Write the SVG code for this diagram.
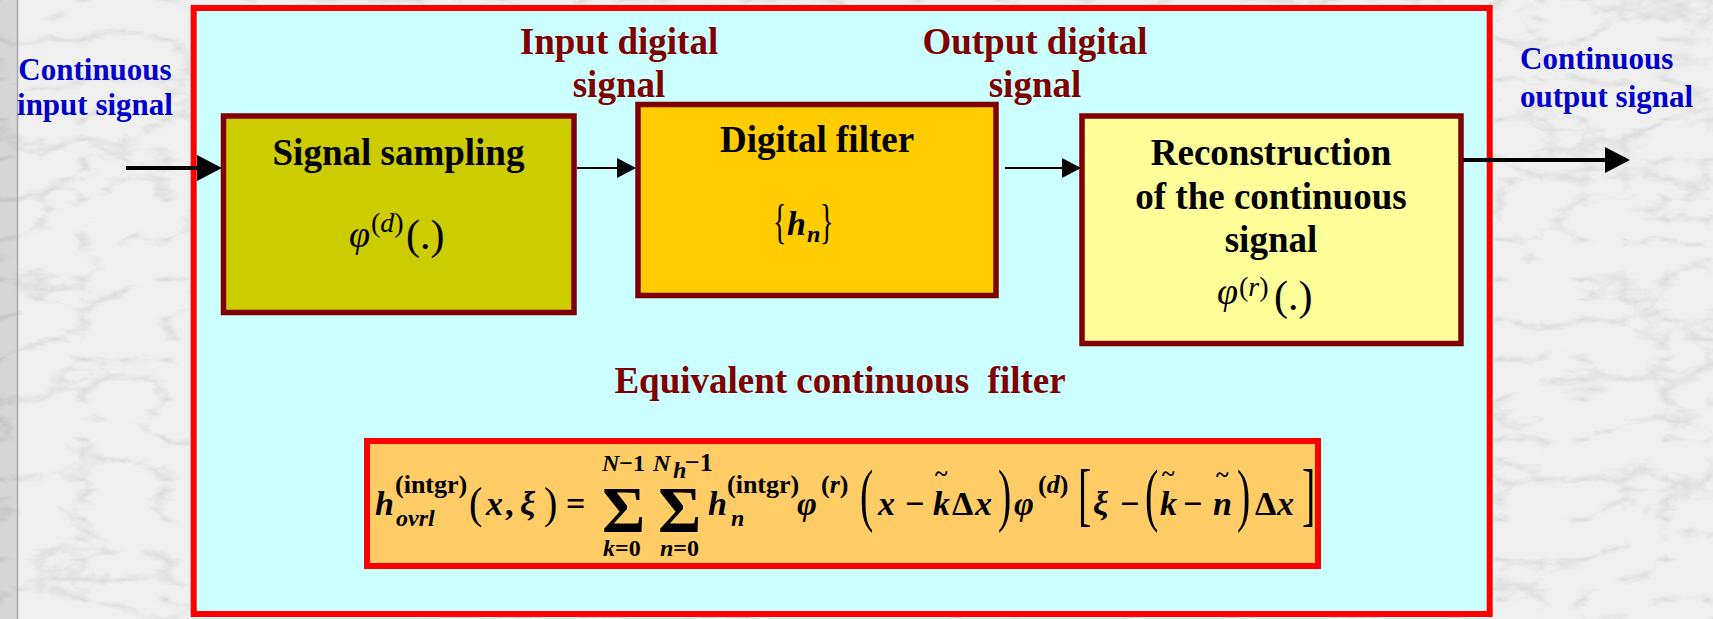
<svg xmlns="http://www.w3.org/2000/svg" width="1713" height="619" viewBox="0 0 1713 619">
<style>
text { font-family: "Liberation Serif", "Times New Roman", serif; }
.box { stroke: #800000; stroke-width: 5.5; }
.bt { font-weight: bold; font-size: 37px; fill: #000; text-anchor: middle; }
.lbl { font-weight: bold; font-size: 37px; fill: #800000; text-anchor: middle; }
.blue { font-weight: bold; font-size: 31px; fill: #0000CC; }
.phi { font-style: italic; font-size: 38px; fill: #000; }
.sup { font-size: 28px; fill: #000; }
.par { font-size: 42px; fill: #000; }
.fi { font-weight: bold; font-style: italic; font-size: 34px; fill: #000; }
.fo { font-weight: bold; font-size: 34px; fill: #000; }
.fs { font-weight: bold; font-size: 26px; fill: #000; }
.fsi { font-weight: bold; font-style: italic; font-size: 24px; fill: #000; }
.up { font-style: normal; }
.bp { font-size: 40px; fill: #000; }
.sum { font-weight: bold; font-size: 66px; fill: #000; }
.til { font-weight: bold; font-size: 24px; fill: #000; }
.conn { stroke: #000; fill: none; }
</style>
<defs>
<filter id="marble" x="0" y="0" width="1" height="1">
<feTurbulence type="turbulence" baseFrequency="0.012 0.025" numOctaves="5" seed="11"/>
<feColorMatrix type="matrix" values="0 0 0 0 0.5  0 0 0 0 0.5  0 0 0 0 0.52  -1.6 0 0 0 0.42"/>
</filter>
<marker id="ahBig" markerUnits="userSpaceOnUse" markerWidth="25" markerHeight="26" viewBox="0 0 25 26" refX="0" refY="13" orient="auto">
<path d="M0,0 L25,13 L0,26 Z" fill="#000"/>
</marker>
<marker id="ahSmall" markerUnits="userSpaceOnUse" markerWidth="19" markerHeight="20" viewBox="0 0 19 20" refX="0" refY="10" orient="auto">
<path d="M0,0 L19,10 L0,20 Z" fill="#000"/>
</marker>
</defs>

<!-- background marble -->
<rect x="0" y="0" width="1713" height="619" fill="#f0f0f0"/>
<rect x="0" y="0" width="1713" height="619" filter="url(#marble)"/>
<rect x="0" y="0" width="17" height="619" fill="#000" opacity="0.1"/>
<line x1="17.5" y1="0" x2="17.5" y2="619" stroke="#a8a8a8" stroke-width="1.5"/>

<!-- outer frame -->
<g id="frame">
<rect x="193.7" y="8" width="1296" height="606" fill="#CCFFFF" stroke="#FF0000" stroke-width="6"/>
</g>

<!-- external labels -->
<g id="label-input">
<text class="blue" x="95" y="79.5" text-anchor="middle">Continuous</text>
<text class="blue" x="95" y="115" text-anchor="middle">input signal</text>
</g>
<g id="label-output">
<text class="blue" x="1520" y="69">Continuous</text>
<text class="blue" x="1520" y="107">output signal</text>
</g>
<g id="label-input-digital">
<text class="lbl" x="619" y="53.5">Input digital</text>
<text class="lbl" x="619" y="97">signal</text>
</g>
<g id="label-output-digital">
<text class="lbl" x="1035" y="53.5">Output digital</text>
<text class="lbl" x="1035" y="97">signal</text>
</g>

<!-- nodes -->
<g id="sampling">
<rect class="box" x="223.5" y="116" width="350.5" height="196.5" fill="#CCCC00"/>
<text class="bt" x="398.5" y="165">Signal sampling</text>
<text class="phi" x="349" y="247">φ</text>
<text class="sup" x="371" y="232">(<tspan font-style="italic">d</tspan>)</text>
<text class="par" x="406" y="249">(.)</text>
</g>

<g id="digital-filter">
<rect class="box" x="638" y="104.5" width="358" height="191" fill="#FFCC00"/>
<text class="bt" x="817" y="152">Digital filter</text>
<text class="sup" font-size="30" transform="translate(773,238) scale(1,1.7)">{</text>
<text class="fi" font-size="36" x="787" y="235">h</text>
<text class="fsi" x="807" y="242">n</text>
<text class="sup" font-size="30" transform="translate(820,238) scale(1,1.7)">}</text>
</g>

<g id="reconstruction">
<rect class="box" x="1082" y="116" width="379" height="227.5" fill="#FFFF99"/>
<text class="bt" x="1271" y="165">Reconstruction</text>
<text class="bt" x="1271" y="208.5">of the continuous</text>
<text class="bt" x="1271" y="252">signal</text>
<text class="phi" x="1217" y="304">φ</text>
<text class="sup" x="1239" y="296">(<tspan font-style="italic">r</tspan>)</text>
<text class="par" x="1274" y="310">(.)</text>
</g>

<g id="equivalent-title">
<text class="lbl" x="840" y="393" xml:space="preserve">Equivalent continuous  filter</text>
</g>

<g id="formula">
<rect x="367" y="441" width="951" height="125" fill="#FFCC66" stroke="#FF0000" stroke-width="6"/>
<text class="fi" x="375" y="515">h</text>
<text class="fs" x="395" y="493">(intgr)</text>
<text class="fsi" x="396" y="526">ovrl</text>
<text class="bp" transform="translate(469,518) scale(1,1.12)">(</text>
<text class="fi" x="486" y="515">x</text>
<text class="fo" x="505" y="515">,</text>
<text class="fi" x="520" y="515">ξ</text>
<text class="bp" transform="translate(544,518) scale(1,1.12)">)</text>
<text class="fo" font-size="36" x="566" y="515">=</text>
<text class="sum" x="602" y="532">Σ</text>
<text class="fsi" x="602" y="471">N<tspan class="up">−1</tspan></text>
<text class="fsi" x="603" y="556">k<tspan class="up">=0</tspan></text>
<text class="sum" x="658" y="532">Σ</text>
<text class="fsi" x="653" y="471">N</text>
<text class="fsi" font-size="16" x="673" y="478">h</text>
<text class="fs" font-size="24" x="685" y="471">−1</text>
<text class="fsi" x="660" y="556">n<tspan class="up">=0</tspan></text>
<text class="fi" x="708" y="515">h</text>
<text class="fs" x="727" y="493">(intgr)</text>
<text class="fsi" x="731" y="526">n</text>
<text class="fi" font-size="36" x="797" y="515">φ</text>
<text class="fs" x="821" y="493">(<tspan font-style="italic">r</tspan>)</text>
<text class="bp" transform="translate(860,518) scale(1,1.75)">(</text>
<text class="fi" x="878" y="515">x</text>
<text class="fo" x="905" y="515">−</text>
<text class="fi" x="933" y="515">k</text>
<text class="til" x="935" y="481">~</text>
<text class="fo" x="952" y="515">Δ</text>
<text class="fi" x="975" y="515">x</text>
<text class="bp" transform="translate(998,518) scale(1,1.75)">)</text>
<text class="fi" font-size="36" x="1014" y="515">φ</text>
<text class="fs" x="1038" y="493">(<tspan font-style="italic">d</tspan>)</text>
<text class="bp" transform="translate(1078,518) scale(1,1.75)">[</text>
<text class="fi" x="1093" y="515">ξ</text>
<text class="fo" x="1120" y="515">−</text>
<text class="bp" transform="translate(1145,518) scale(1,1.75)">(</text>
<text class="fi" x="1160" y="515">k</text>
<text class="til" x="1162" y="481">~</text>
<text class="fo" x="1183" y="515">−</text>
<text class="fi" x="1213" y="515">n</text>
<text class="til" x="1216" y="482">~</text>
<text class="bp" transform="translate(1237,518) scale(1,1.75)">)</text>
<text class="fo" x="1255" y="515">Δ</text>
<text class="fi" x="1277" y="515">x</text>
<text class="bp" transform="translate(1302,518) scale(1,1.75)">]</text>
</g>

<!-- connectors -->
<g id="connectors">
<line class="conn" x1="126" y1="168" x2="197" y2="168" stroke-width="4" marker-end="url(#ahBig)"/>
<line class="conn" x1="577" y1="168" x2="617" y2="168" stroke-width="1.8" marker-end="url(#ahSmall)"/>
<line class="conn" x1="1005" y1="168" x2="1062" y2="168" stroke-width="1.8" marker-end="url(#ahSmall)"/>
<line class="conn" x1="1463" y1="160" x2="1605" y2="160" stroke-width="4" marker-end="url(#ahBig)"/>
</g>
</svg>
